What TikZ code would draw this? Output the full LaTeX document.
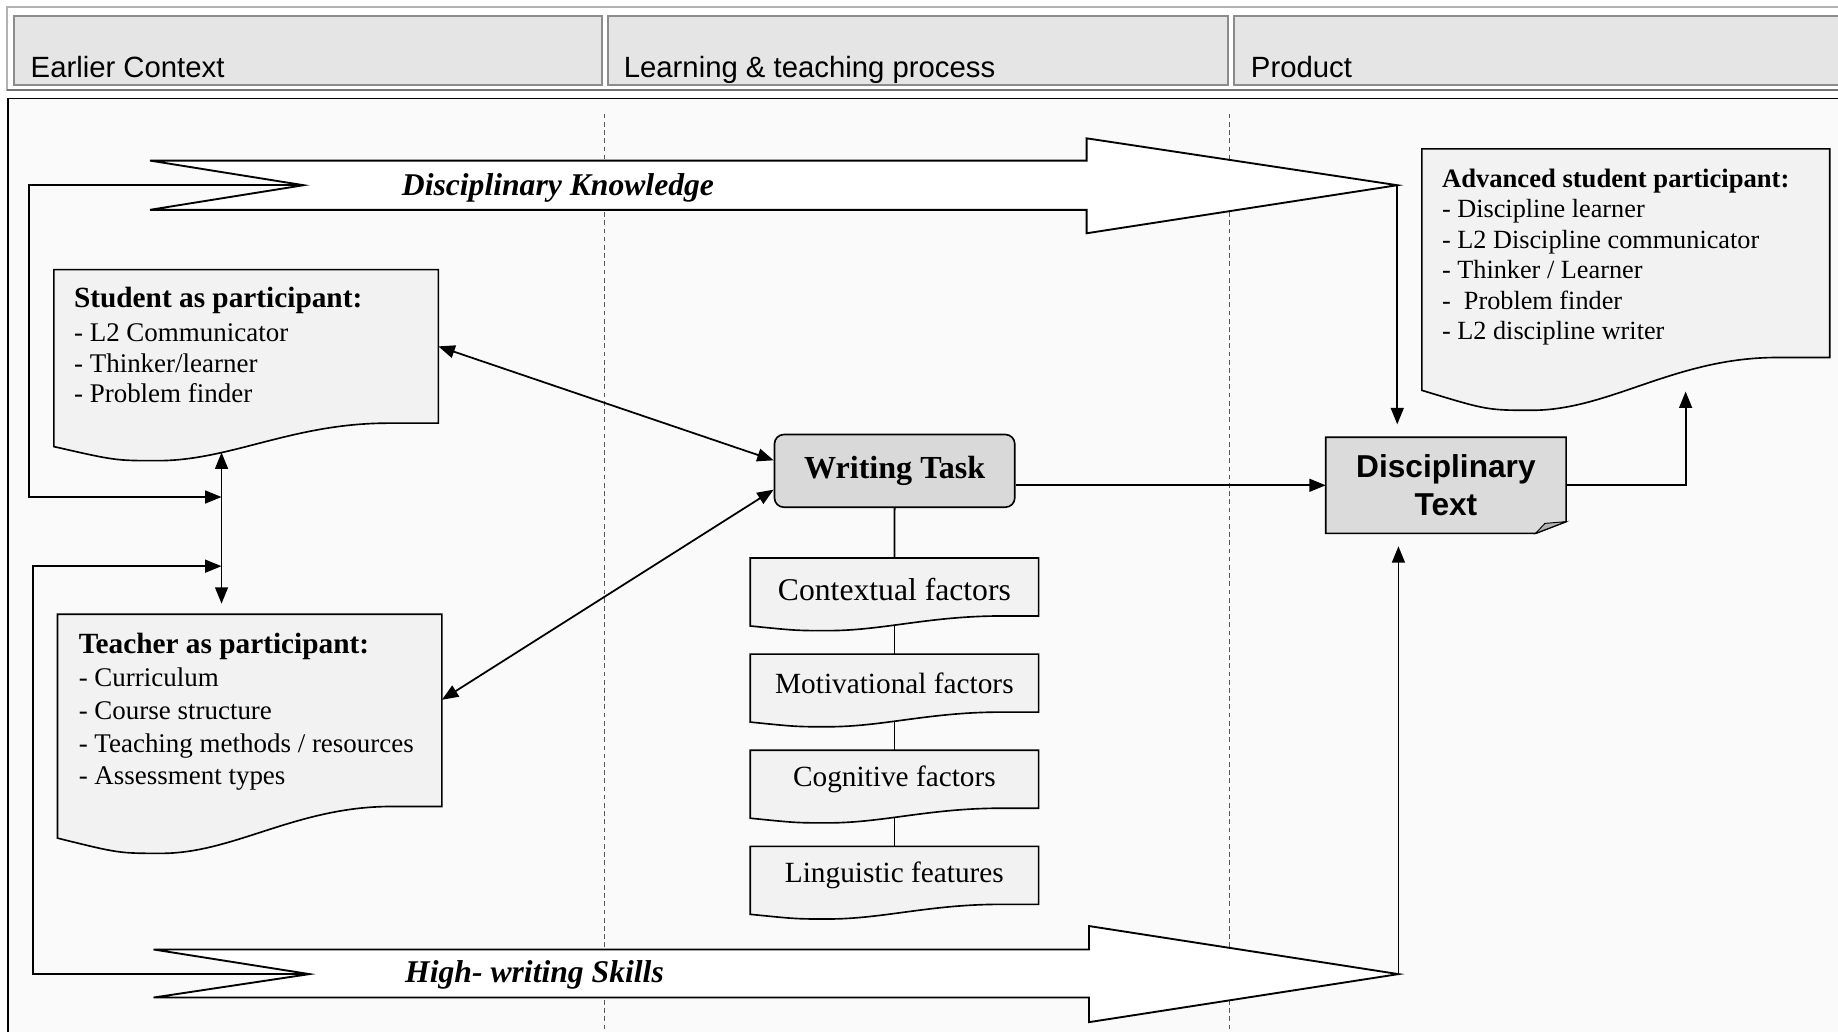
\documentclass[tikz,border=0pt]{standalone}
\usepackage{fontspec}
\setmainfont{Liberation Serif}
\newfontfamily\arialfont{Liberation Sans}
\usetikzlibrary{arrows.meta,calc}
\pgfdeclarelayer{bg}
\pgfdeclarelayer{edges}
\pgfdeclarelayer{shapes}
\pgfsetlayers{bg,edges,shapes,main}

\newcommand\fsz[2]{\fontsize{#1}{#2}\selectfont}

% document shape with a wavy lower edge, drawn round an empty rectangle node
% #1 node, #2 drop of the left corner, #3 drop of the lowest point of the wave
\newcommand\docshape[3]{%
  \begin{pgfonlayer}{shapes}
    \draw[docfill] let \p1=(#1.north west), \p2=(#1.south east), \n1={\x2-\x1} in
      (\p1) -- (\x2,\y1) -- (\p2) -- (\x1+0.87*\n1,\y2)
      .. controls (\x1+0.62*\n1,\y2) and (\x1+0.46*\n1,\y2-#3pt) .. (\x1+0.27*\n1,\y2-#3pt)
      .. controls (\x1+0.16*\n1,\y2-#3pt) .. (\x1,\y2-#2pt) -- cycle;
  \end{pgfonlayer}}

\tikzset{
  hdcell/.style={rectangle, draw=black!45, line width=1.5pt, fill=black!10, inner sep=0},
  hdtxt/.style={font=\arialfont\fsz{25}{30}, anchor=base west, inner sep=0},
  docfill/.style={draw=black, line width=1.4pt, fill=black!5},
  boxarea/.style={rectangle, inner sep=0, outer sep=0},
  conn/.style={draw=black, line width=1.5pt},
  arr/.style={conn, -{Triangle[length=14pt,width=11pt]}},
  darr/.style={conn, {Triangle[length=14pt,width=11pt]}-{Triangle[length=14pt,width=11pt]}},
  blockarrow/.style={draw=black, line width=1.6pt, fill=white, line join=miter},
  bandtxt/.style={font=\fsz{27}{30}\bfseries\itshape, inner sep=0},
  colsep/.style={draw=black!65, line width=0.8pt, dash pattern=on 4pt off 3pt},
  factorbox/.style={boxarea, anchor=north west, minimum width=246pt, minimum height=49.5pt, font=\fsz{25}{28}},
  listtxt/.style={anchor=north west, align=left, inner sep=0},
}

\begin{document}
\begin{tikzpicture}[x=1pt,y=-1pt]
\useasboundingbox (0,0) rectangle (1568,880);

% ---- column headings ----
\draw[black!30, line width=1pt] (6,6) rectangle (1590,77);
\draw[black!55, line width=2pt] (6,77) -- (1590,77);
\node[hdcell, anchor=north west, minimum width=502pt, minimum height=59pt] (h1) at (11,13) {};
\node[hdcell, anchor=north west, minimum width=529pt, minimum height=59pt] (h2) at (518,13) {};
\node[hdcell, anchor=north west, minimum width=540pt, minimum height=59pt] (h3) at (1052,13) {};
\node[hdtxt] (h1t) at (26,66) {Earlier Context};
\node[hdtxt] (h2t) at (532,66) {Learning \& teaching process};
\node[hdtxt] (h3t) at (1067,66) {Product};

% ---- main panel and column separators ----
\begin{pgfonlayer}{bg}
  \draw[fill=black!2, line width=1.6pt] (7,84) rectangle (1600,900);
  \draw[colsep] (516,97) -- (516,880);
  \draw[colsep] (1049,97) -- (1049,880);
\end{pgfonlayer}

% ---- broad band arrows ----
\coordinate (dkNotch) at (259,158);
\coordinate (dkTip) at (1192,158);
\coordinate (hwNotch) at (264,831);
\coordinate (hwTip) at (1193,831);
\begin{pgfonlayer}{shapes}
  \draw[blockarrow] (128,137) -- (927,137) -- (927,118) -- (dkTip) -- (927,199)
    -- (927,179) -- (128,179) -- (dkNotch) -- cycle;
  \draw[blockarrow] (131,810) -- (929,810) -- (929,790) -- (hwTip) -- (929,872)
    -- (929,851) -- (131,851) -- (hwNotch) -- cycle;
\end{pgfonlayer}
\node[bandtxt] (dkLabel) at (476,160) {Disciplinary Knowledge};
\node[bandtxt] (hwLabel) at (456,832) {High- writing Skills};

% ---- participants ----
\node[boxarea, anchor=north west, minimum width=328pt, minimum height=131pt] (stu) at (46,230) {};
\docshape{stu}{20}{32}
\node[listtxt, font=\fsz{23}{26}] (stuText) at (63,245)
  {{\fsz{25}{26}\bfseries Student as participant:}\\[3pt]
   - L2 Communicator\\ - Thinker/learner\\ - Problem finder};

\node[boxarea, anchor=north west, minimum width=328pt, minimum height=164pt] (tea) at (49,524) {};
\docshape{tea}{27}{40}
\node[listtxt, font=\fsz{23}{28}] (teaText) at (67,540)
  {{\fsz{25}{28}\bfseries Teacher as participant:}\\
   - Curriculum\\ - Course structure\\ - Teaching methods / resources\\ - Assessment types};

\node[boxarea, anchor=north west, minimum width=348pt, minimum height=178pt] (adv) at (1213,127) {};
\docshape{adv}{28}{45}
\node[listtxt, font=\fsz{22.4}{26}] (advText) at (1230,144)
  {{\fsz{22.7}{25}\bfseries Advanced student participant:}\\
   - Discipline learner\\ - L2 Discipline communicator\\ - Thinker / Learner\\
   -~ Problem finder\\ - L2 discipline writer};

% ---- writing task and its factors ----
\node[draw, fill=black!15, rounded corners=8pt, line width=1.4pt, anchor=north west,
      minimum width=205pt, minimum height=62pt, font=\fsz{27.4}{30}\bfseries] (wt) at (660,370) {Writing Task};

\node[factorbox, font=\fsz{27}{30}, text height=22.5pt, text depth=0pt] (ctx) at (640,476) {Contextual factors};
\docshape{ctx}{8.5}{12.5}
\node[factorbox] (mot) at (640,558) {Motivational factors};
\docshape{mot}{8.5}{12.5}
\node[factorbox] (cog) at (640,640) {Cognitive factors};
\docshape{cog}{8.5}{12.5}
\node[factorbox] (lng) at (640,722) {Linguistic features};
\docshape{lng}{8.5}{12.5}

% ---- product ----
\node[boxarea, anchor=north west, minimum width=205pt, minimum height=82pt, align=center,
      font=\arialfont\bfseries\fsz{27}{32}] (dt) at (1131,373) {Disciplinary\\Text};
\begin{pgfonlayer}{shapes}
  \draw[fill=black!14, line width=1.4pt] (dt.north west) -- (dt.north east)
    -- ([yshift=10pt]dt.south east) -- ([xshift=-26pt]dt.south east) -- (dt.south west) -- cycle;
  \draw[fill=black!30, line width=0.8pt] ([xshift=-26pt]dt.south east)
    -- ([xshift=-18pt,yshift=8.5pt]dt.south east) -- ([yshift=10pt]dt.south east) -- cycle;
\end{pgfonlayer}

% ---- connectors ----
\coordinate (stuB) at (189,386);
\coordinate (loopA) at (25,424);
\coordinate (loopB) at (28,483);
\coordinate (advIn) at (1438,334);
\begin{pgfonlayer}{edges}
  \draw[conn] (wt.south) -- (ctx.north);
  \draw[conn] (ctx.center) -- (mot.center);
  \draw[conn] (mot.center) -- (cog.center);
  \draw[conn] (cog.center) -- (lng.center);
  \draw[arr] (dt.west -| wt.east) -- (dt.west);
  \draw[arr] (dt.east) -| (advIn);
  \draw[arr, shorten >=11pt] (dkTip) -- (dkTip |- dt.north);
  \draw[arr, shorten >=11pt] (hwTip) -- (hwTip |- dt.south);
  \draw[darr] (stu.east) -- ([yshift=9pt]wt.west);
  \draw[darr] ([yshift=9pt]tea.east) -- ([yshift=-16pt]wt.west);
  \draw[darr, shorten >=9pt] (stuB) -- (stuB |- tea.north);
  \draw[arr] (dkNotch) -| (loopA) -- (loopA -| stuB);
  \draw[arr] (hwNotch) -| (loopB) -- (loopB -| stuB);
\end{pgfonlayer}
\end{tikzpicture}
\end{document}
